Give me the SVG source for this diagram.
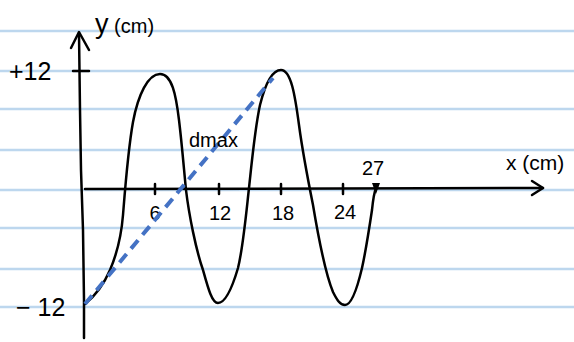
<svg xmlns="http://www.w3.org/2000/svg" width="574" height="342" viewBox="0 0 574 342">
  <style>
    .rule { stroke: #bdd7ee; stroke-width: 2.5; }
    .ink { fill: none; stroke: #000; stroke-width: 2.5; stroke-linecap: round; stroke-linejoin: round; }
    .lbl { font-family: "Liberation Sans", "DejaVu Sans", sans-serif; fill: #000; font-size: 20px; }
    .big { font-size: 25px; }
    .dash { fill: none; stroke: #4472c4; stroke-width: 4; stroke-dasharray: 11 7; }
  </style>
  <rect x="0" y="0" width="574" height="342" fill="#fff"/>
  <g id="paper-lines">
    <line class="rule" x1="0" y1="31" x2="574" y2="31"/>
    <line class="rule" x1="0" y1="71" x2="574" y2="71"/>
    <line class="rule" x1="0" y1="109" x2="574" y2="109"/>
    <line class="rule" x1="0" y1="150" x2="574" y2="150"/>
    <line class="rule" x1="0" y1="190" x2="574" y2="190"/>
    <line class="rule" x1="0" y1="228" x2="574" y2="228"/>
    <line class="rule" x1="0" y1="269" x2="574" y2="269"/>
    <line class="rule" x1="0" y1="307" x2="574" y2="307"/>
  </g>
  <g id="y-axis">
    <path class="ink" d="M84,338 L84,300 L83,230 L81,170 L80,110 L79,33"/>
    <path class="ink" d="M71,48 L79,32 L89,50"/>
    <line class="ink" x1="73" y1="71" x2="89" y2="71"/>
    <text class="lbl" x="95" y="33"><tspan style="font-size:27px">y</tspan> (cm)</text>
    <text class="lbl big" x="9" y="80">+12</text>
    <text class="lbl big" x="16" y="316">− 12</text>
  </g>
  <g id="x-axis">
    <path class="ink" d="M85,189 L543,188"/>
    <path class="ink" d="M532,181 L543,188 L532,195"/>
    <line class="ink" x1="155" y1="184" x2="155" y2="194"/>
    <line class="ink" x1="219" y1="184" x2="219" y2="194"/>
    <line class="ink" x1="281" y1="184" x2="281" y2="194"/>
    <line class="ink" x1="343" y1="184" x2="343" y2="194"/>
    <polygon points="372,183 380,183 376,194" fill="#000"/>
    <text class="lbl" x="155" y="220" text-anchor="middle">6</text>
    <text class="lbl" x="220" y="220" text-anchor="middle">12</text>
    <text class="lbl" x="283" y="220" text-anchor="middle">18</text>
    <text class="lbl" x="345" y="219" text-anchor="middle">24</text>
    <text class="lbl" x="373" y="175" text-anchor="middle">27</text>
    <text class="lbl" x="506" y="170" style="font-size:21px">x (cm)</text>
  </g>
  <g id="wave">
    <path class="ink" d="M85,304 C95,296 104,284 110,270 C116,256 121,240 123,215 C125,190 128,150 133,122 C138,95 148,74 160,74 C172,74 176,95 179,120 C182,145 184,170 186,190 C189,215 196,250 203,270 C208,288 212,303 218,303 C226,303 233,285 238,268 C243,248 246,215 249,188 C252,160 255,128 260,105 C265,85 272,70 281,70 C291,70 295,95 299,125 C303,155 308,180 313,205 C318,235 326,275 333,292 C337,300 340,305 345,305 C352,305 358,285 362,268 C366,250 369,230 372,210 C373,200 374,193 376,188"/>
  </g>
  <g id="dmax">
    <path class="dash" d="M85,304 L273,78"/>
    <text class="lbl" x="189" y="147">dmax</text>
  </g>
</svg>
